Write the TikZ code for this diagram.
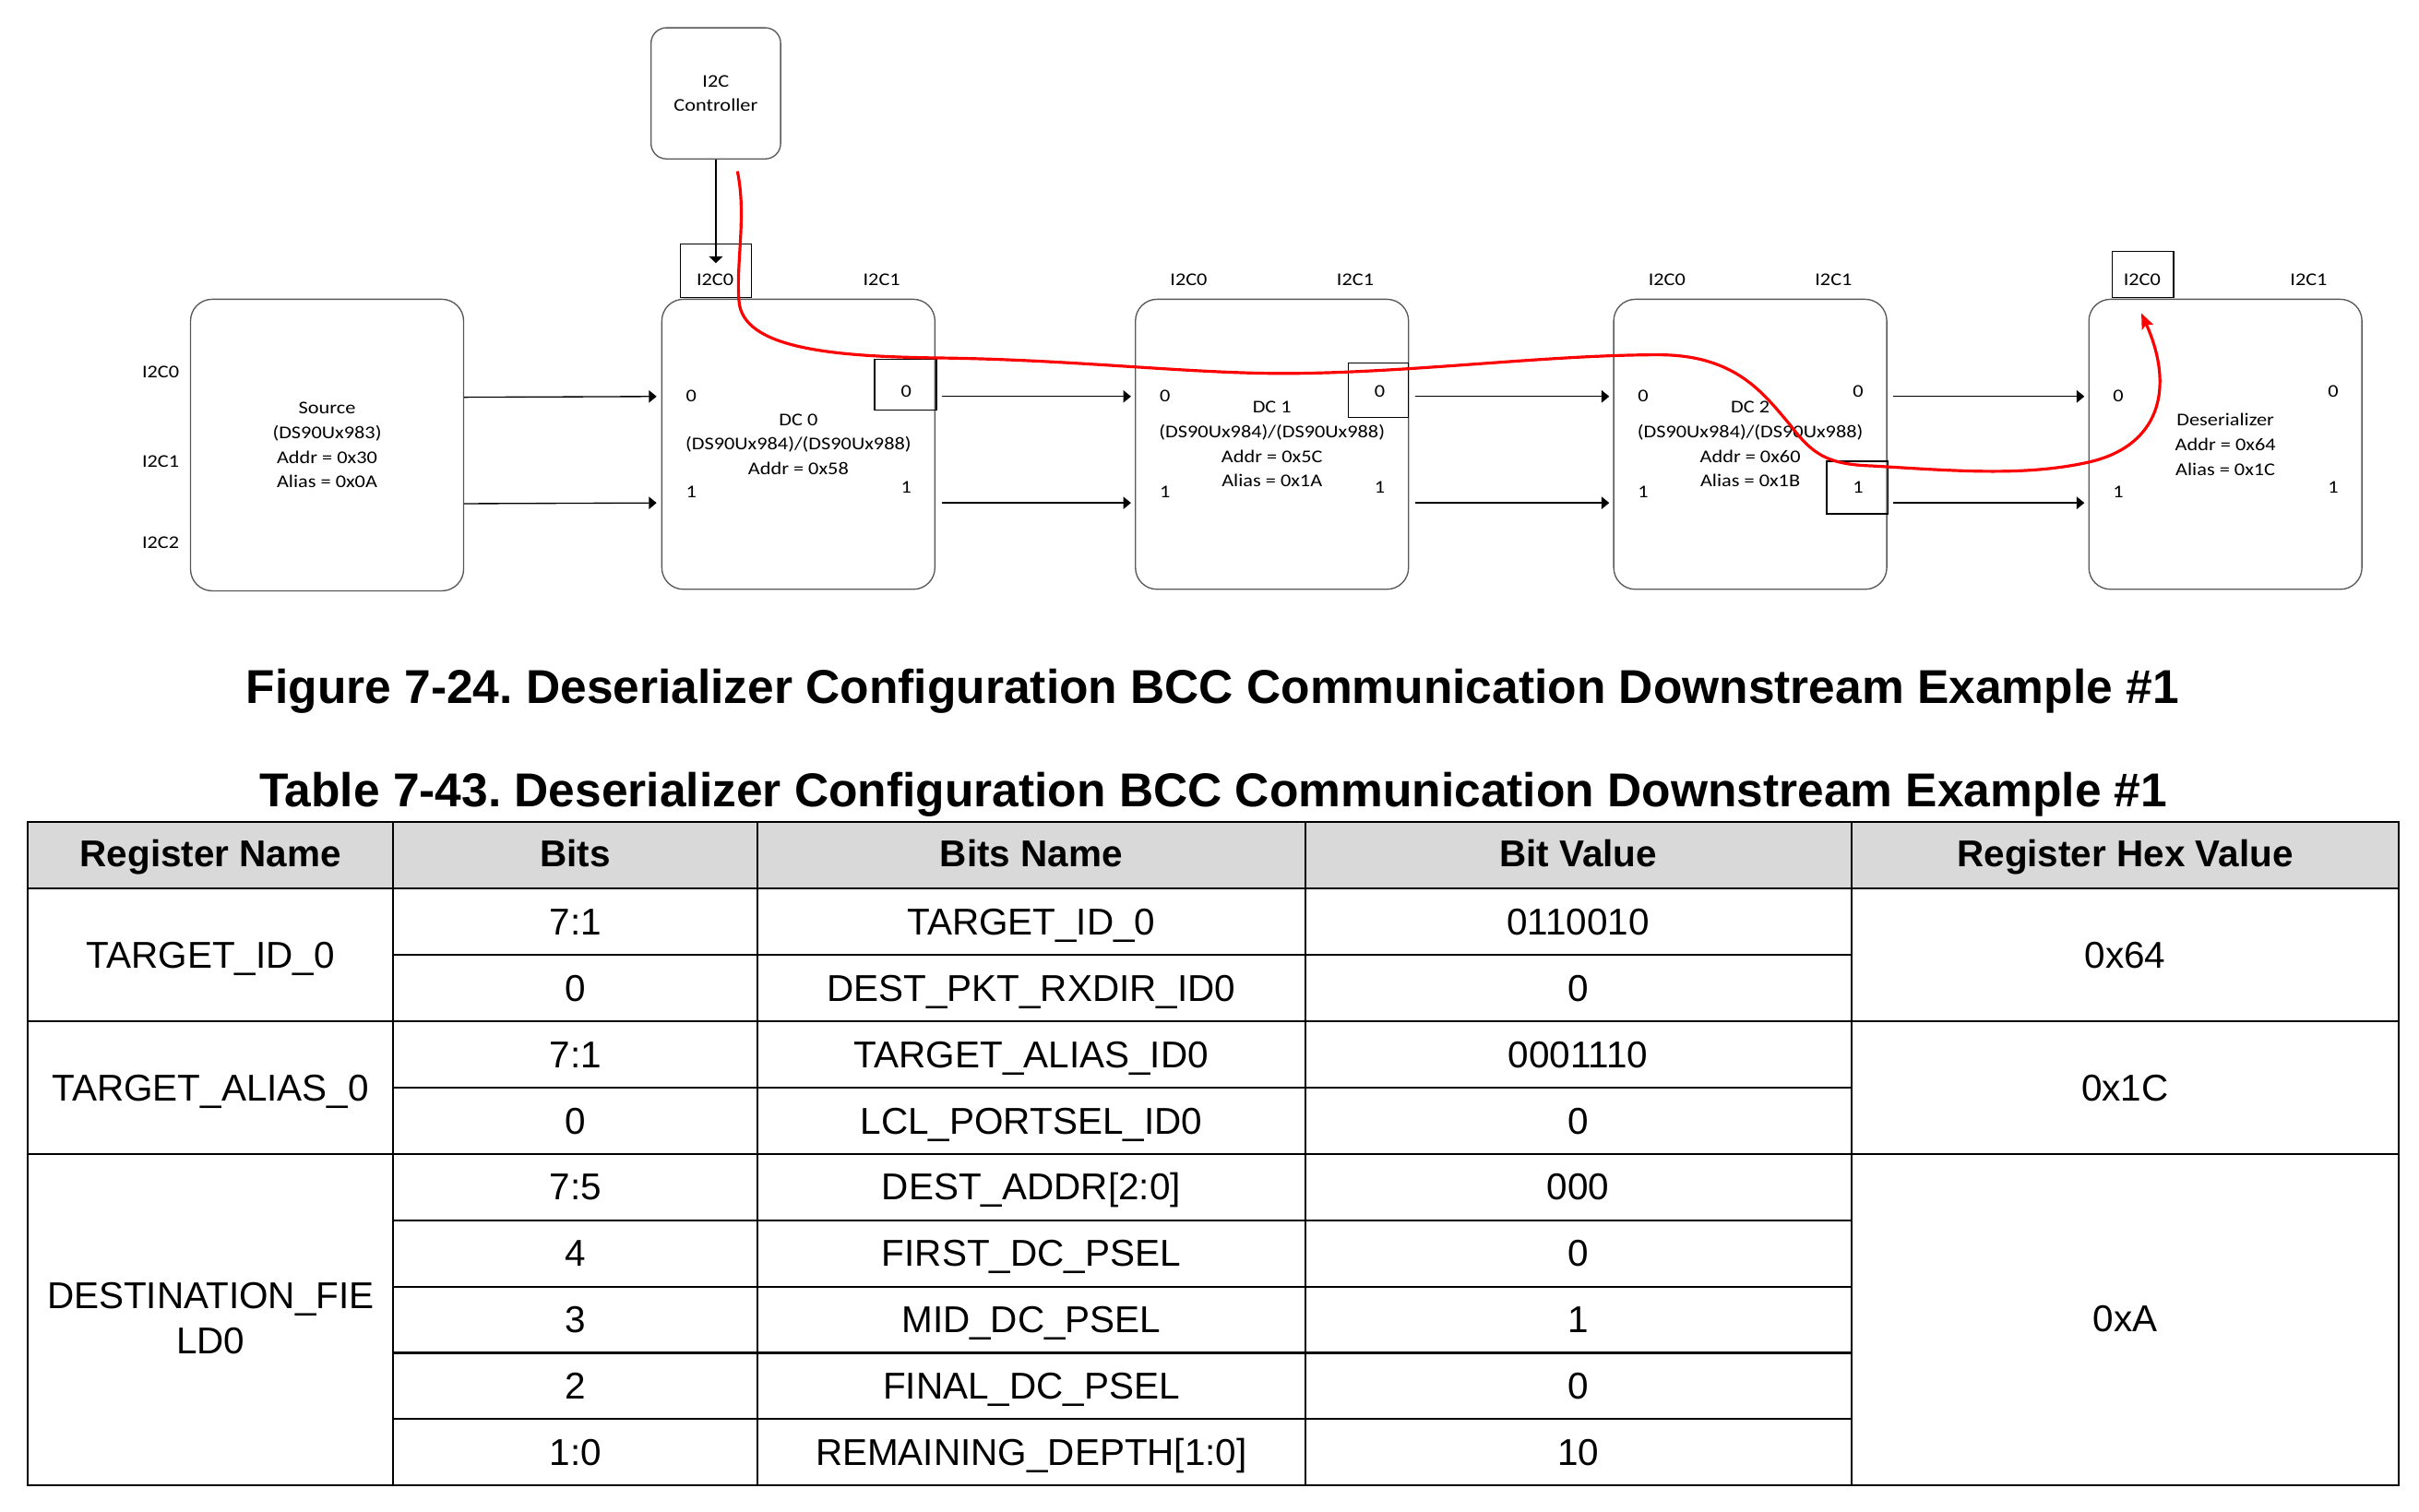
\documentclass[tikz,border=0pt]{standalone}
\usepackage{fontspec}
\setmainfont{Liberation Sans}
\newfontfamily\diagfont[FakeStretch=1.15]{Carlito}
\usetikzlibrary{arrows.meta,calc}
\definecolor{hdr}{HTML}{D9D9D9}
\definecolor{boxline}{HTML}{585858}
\frenchspacing

\begin{document}
\begin{tikzpicture}[x=1pt,y=-1pt,
  dev/.style={draw=boxline, line width=0.8pt, rounded corners=14pt,
    minimum width=177pt, minimum height=188pt, inner sep=0pt, align=center,
    font=\diagfont\fontsize{11.6}{16}\selectfont},
  ctrlbox/.style={draw=boxline, line width=0.8pt, rounded corners=10pt,
    minimum width=84pt, minimum height=85pt, inner sep=0pt, align=center,
    font=\diagfont\fontsize{11.6}{16}\selectfont},
  portbox/.style={draw=black, line width=0.8pt, inner sep=0pt},
  lbl/.style={font=\diagfont\fontsize{11.6}{14}\selectfont, inner sep=0pt},
  arr/.style={line width=0.8pt, -{Triangle[length=5pt,width=8pt]}},
  downarr/.style={line width=0.8pt, -{Triangle[length=4.5pt,width=9pt]}},
  bus/.style={draw=red, line width=1.9pt, -{Stealth[length=10pt,width=8pt,inset=2pt]}},
  caption/.style={font=\bfseries\fontsize{30.8}{35}\selectfont, anchor=base, inner sep=0pt},
  cell/.style={font=\fontsize{24.2}{29}\selectfont, anchor=base, inner sep=0pt, align=center},
  headcell/.style={font=\bfseries\fontsize{24.2}{29}\selectfont, anchor=base, inner sep=0pt},
  tbl/.style={line width=1.25pt, line cap=rect}
]
\useasboundingbox (0,0) rectangle (1568,980);

% ---------- block diagram ----------
\node[ctrlbox] (ctrl) at (464,60.5) {I2C\\Controller};

\node[dev, minimum height=189pt] (src) at (212,288.5)
  {Source\\(DS90Ux983)\\Addr = 0x30\\Alias = 0x0A};
\node[dev] (dc0) at (517.5,288) {DC 0\\(DS90Ux984)/(DS90Ux988)\\Addr = 0x58};
\node[dev] (dc1) at (824.5,288) {DC 1\\(DS90Ux984)/(DS90Ux988)\\Addr = 0x5C\\Alias = 0x1A};
\node[dev] (dc2) at (1134.5,288) {DC 2\\(DS90Ux984)/(DS90Ux988)\\Addr = 0x60\\Alias = 0x1B};
\node[dev] (des) at (1442.5,288) {Deserializer\\Addr = 0x64\\Alias = 0x1C};

% I2C port labels of the source
\node[lbl] (src-p0) at ($(src.west)+(-19,-47.5)$) {I2C0};
\node[lbl] (src-p1) at ($(src.west)+(-19,10.5)$) {I2C1};
\node[lbl] (src-p2) at ($(src.west)+(-19,63.5)$) {I2C2};

% port labels of the hub chain and the deserializer
\foreach \n in {dc0,dc1,dc2,des}{
  \node[lbl] (\n-i2c0) at ($(\n.north)+(-54,-12)$) {I2C0};
  \node[lbl] (\n-i2c1) at ($(\n.north)+(54,-12)$) {I2C1};
  \node[lbl] (\n-in0) at ($(\n.west)+(19.5,-31)$) {0};
  \node[lbl] (\n-in1) at ($(\n.west)+(19.5,31)$) {1};
  \node[lbl] (\n-out0) at ($(\n.east)+(-19,-34)$) {0};
  \node[lbl] (\n-out1) at ($(\n.east)+(-19,28)$) {1};
}

% highlighted ports on the BCC path
\node[portbox, minimum width=46pt, minimum height=35pt] (dc0-pa) at (464,175.5) {};
\node[portbox, minimum width=40pt, minimum height=33pt] (dc0-pb) at (587,249.5) {};
\node[portbox, minimum width=39pt, minimum height=35pt] (dc1-pb) at (893.5,253) {};
\node[portbox, minimum width=40pt, minimum height=34pt] (dc2-pb) at (1204,316) {};
\node[portbox, minimum width=40pt, minimum height=30pt] (des-pa) at (1389,178) {};

% controller to the first hub
\coordinate (ctrl-tip) at ($(dc0-pa.north)+(0,13)$);
\draw[downarr] (ctrl.south) -- (ctrl-tip);

% forward links
\draw[arr] ($(src.east)+(0,-31)$) -- ($(dc0.west)+(-3,-31)$);
\draw[arr] ($(src.east)+(0,38)$) -- ($(dc0.west)+(-3,38)$);
\foreach \a/\b in {dc0/dc1,dc1/dc2,dc2/des}{
  \draw[arr] ($(\a.east)+(4,-31)$) -- ($(\b.west)+(-2.5,-31)$);
  \draw[arr] ($(\a.east)+(4,38)$) -- ($(\b.west)+(-2.5,38)$);
}

% BCC access path
\coordinate (bus-start) at (478,111);
\coordinate (bus-end) at (1388,203);
\draw[bus] (bus-start) .. controls (484,140) and (477,170) .. (479,195)
  .. controls (481,226) and (540,231) .. (606,232)
  .. controls (700,233) and (775,243) .. (842,242)
  .. controls (920,241) and (1005,230) .. (1075,230)
  .. controls (1125,230) and (1143,255) .. (1160,275)
  .. controls (1175,295) and (1185,301) .. (1213,302)
  .. controls (1265,305) and (1310,309) .. (1352,300)
  .. controls (1400,290) and (1410,252) .. (bus-end);

% ---------- captions ----------
\node[caption] (figcap) at (786,455.7)
  {Figure 7-24. Deserializer Configuration BCC Communication Downstream Example \#1};
\node[caption] (tabcap) at (786.5,522.7)
  {Table 7-43. Deserializer Configuration BCC Communication Downstream Example \#1};

% ---------- register table ----------
\fill[hdr] (18,533) rectangle (1555,576);
\foreach \y in {533,576,662,748,963}
  \draw[tbl] (18,\y) -- (1555,\y);
\foreach \y in {619,705,791,834,877,920}
  \draw[tbl] (255,\y) -- (1200,\y);
\foreach \x in {18,255,491,846,1200,1555}
  \draw[tbl] (\x,533) -- (\x,963);

\node[headcell] (h1) at (136.5,562) {Register Name};
\node[headcell] (h2) at (373,562) {Bits};
\node[headcell] (h3) at (668.5,562) {Bits Name};
\node[headcell] (h4) at (1023,562) {Bit Value};
\node[headcell] (h5) at (1377.5,562) {Register Hex Value};

% row contents: bits / bit name / bit value
\foreach \r/\b/\nm/\v in {
  1/7:1/TARGET\_ID\_0/0110010,
  2/0/DEST\_PKT\_RXDIR\_ID0/0,
  3/7:1/TARGET\_ALIAS\_ID0/0001110,
  4/0/LCL\_PORTSEL\_ID0/0,
  5/7:5/DEST\_ADDR[2:0]/000,
  6/4/FIRST\_DC\_PSEL/0,
  7/3/MID\_DC\_PSEL/1,
  8/2/FINAL\_DC\_PSEL/0,
  9/1:0/REMAINING\_DEPTH[1:0]/10}{
  \pgfmathsetmacro{\yb}{576+43*\r-21.5+8.5}
  \node[cell] (b\r) at (373,\yb) {\b};
  \node[cell] (n\r) at (668.5,\yb) {\nm};
  \node[cell] (v\r) at (1023,\yb) {\v};
}

% merged register name and hex value cells
\node[cell] (reg1) at (136.5,627.5) {TARGET\_ID\_0};
\node[cell] (reg2) at (136.5,713.5) {TARGET\_ALIAS\_0};
\node[cell] (reg3a) at (136.5,848.5) {DESTINATION\_FIE};
\node[cell] (reg3b) at (136.5,877.5) {LD0};
\node[cell] (hex1) at (1377.5,627.5) {0x64};
\node[cell] (hex2) at (1377.5,713.5) {0x1C};
\node[cell] (hex3) at (1377.5,863.5) {0xA};
\end{tikzpicture}
\end{document}
